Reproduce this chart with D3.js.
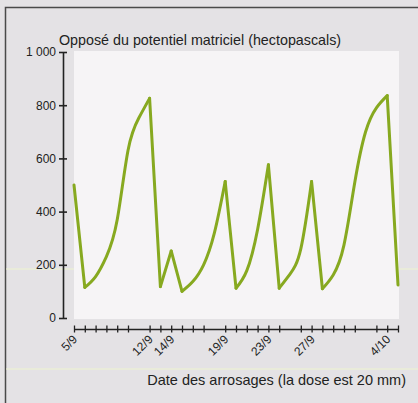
<!DOCTYPE html>
<html>
<head>
<meta charset="utf-8">
<script src="https://cdn.jsdelivr.net/npm/d3@7"></script>
<style>
  body { margin: 0; background: #e4e2e5; }
  svg { display: block; font-family: "Liberation Sans", Arial, sans-serif; }
</style>
</head>
<body>
<script>
// daily values (hectopascals)
const dates = ["5/9","6/9","7/9","8/9","9/9","10/9","11/9","12/9","13/9","14/9","15/9",
  "16/9","17/9","18/9","19/9","20/9","21/9","22/9","23/9","24/9","25/9","26/9","27/9",
  "28/9","29/9","30/9","1/10","2/10","3/10","4/10","5/10"];
const values = [500,115,156,231,369,630,752,826,118,252,100,
  137,200,320,513,112,178,333,576,112,165,260,513,
  110,162,275,510,700,790,836,124];
// no tick on these days
const noTick = ["11/9","18/9","25/9","2/10"];
const labelDates = ["5/9","12/9","14/9","19/9","23/9","27/9","4/10"];
const yTicks = [0,200,400,600,800,1000];

const width = 418, height = 403;

const svg = d3.select("body").append("svg")
    .attr("width", width)
    .attr("height", height);

// background + frame
svg.append("rect").attr("width", width).attr("height", height).attr("fill", "#e4e2e5");
svg.append("path")
    .attr("d", "M5.5," + height + "V7.5H" + width)
    .attr("fill", "none")
    .attr("stroke", "#4a4a4a")
    .attr("stroke-width", 1.5);

// scan artifacts
[269, 369].forEach(function (yy) {
    svg.append("line").attr("x1", 6).attr("x2", width).attr("y1", yy).attr("y2", yy)
        .attr("stroke", "#eef3cf").attr("stroke-width", 1.2);
});

const x = d3.scalePoint().domain(dates).range([74, 398]);
const y = d3.scaleLinear().domain([0, 1000]).range([318, 52]);

// plot area
svg.append("rect")
    .attr("x", 74).attr("y", 51)
    .attr("width", 325).attr("height", 268)
    .attr("fill", "#f6f4f6");

// y axis
const yAxis = svg.append("g")
    .attr("transform", "translate(63,0)")
    .call(d3.axisLeft(y).tickValues(yTicks).tickSize(0).tickPadding(7)
        .tickFormat(d => d === 1000 ? "1 000" : d));
yAxis.select(".domain").attr("stroke", "#222").attr("stroke-width", 1.6);
yAxis.selectAll(".tick line").attr("x1", -4).attr("x2", 4)
    .attr("stroke", "#222").attr("stroke-width", 1.6);
yAxis.selectAll(".tick text").attr("font-size", 12).attr("fill", "#222")
    .attr("font-family", "Liberation Sans, Arial, sans-serif");

// x axis
const xAxis = svg.append("g")
    .attr("transform", "translate(0,329)")
    .call(d3.axisBottom(x).tickValues(dates.filter(d => noTick.indexOf(d) < 0))
        .tickSize(0).tickFormat(""));
xAxis.select(".domain").attr("stroke", "#222").attr("stroke-width", 1.6);
xAxis.selectAll(".tick line").attr("y1", -3.5).attr("y2", 3.5)
    .attr("stroke", "#222").attr("stroke-width", 1.3);

svg.append("g").selectAll("text")
    .data(labelDates)
    .enter()
    .append("text")
    .attr("transform", d => "translate(" + (x(d) + 4) + ",340) rotate(-45)")
    .attr("text-anchor", "end")
    .attr("font-size", 12)
    .attr("fill", "#222")
    .text(d => d);

// titles
svg.append("text")
    .attr("x", 59).attr("y", 45)
    .attr("font-size", 14.3)
    .attr("fill", "#222")
    .text("Opposé du potentiel matriciel (hectopascals)");
svg.append("text")
    .attr("x", 406).attr("y", 385)
    .attr("text-anchor", "end")
    .attr("font-size", 14.5)
    .attr("fill", "#222")
    .text("Date des arrosages (la dose est 20 mm)");

// split the series into rising runs (curved) and drops (straight)
const pts = dates.map((d, i) => [x(d), y(values[i])]);
const runs = [];
let cur = [pts[0]], up = values[1] > values[0];
for (let i = 1; i < pts.length; i++) {
    const u = values[i] > values[i - 1];
    if (u !== up) {
        runs.push({ up: up, p: cur });
        cur = [pts[i - 1]];
        up = u;
    }
    cur.push(pts[i]);
}
runs.push({ up: up, p: cur });

const curved = d3.line().curve(d3.curveNatural);
const straight = d3.line();

svg.append("g").selectAll("path")
    .data(runs)
    .enter()
    .append("path")
    .attr("d", r => r.up ? curved(r.p) : straight(r.p))
    .attr("fill", "none")
    .attr("stroke", "#87a920")
    .attr("stroke-width", 3)
    .attr("stroke-linecap", "round")
    .attr("stroke-linejoin", "round");
</script>
</body>
</html>
